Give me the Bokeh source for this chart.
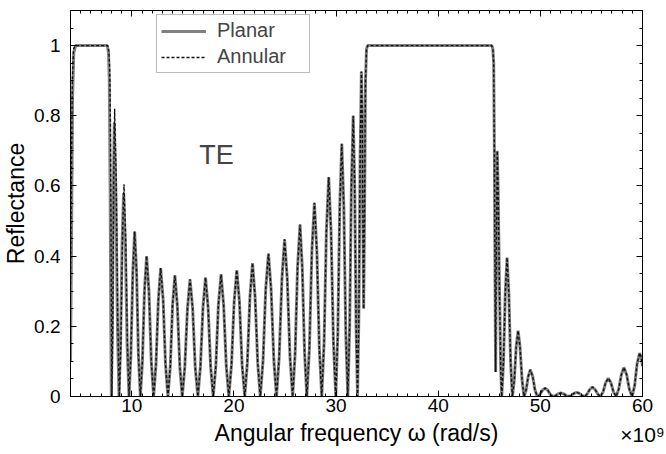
import numpy as np
from bokeh.plotting import figure
from bokeh.models import (LinearAxis, SingleIntervalTicker, FixedTicker, CustomJSTickFormatter,
                          Label, Legend, LegendItem, Range1d)
from bokeh.embed import file_html
from bokeh.resources import INLINE

# ---------------- data (x in units of 1e9 rad/s) ----------------
planar_head_x = [4.00, 4.10, 4.20, 4.32, 4.50, 7.60, 7.72, 7.80, 7.88, 7.95, 8.00,
                 8.10, 8.20, 8.29, 8.44, 8.60, 8.75,
                 8.90, 9.05, 9.20, 9.37, 9.55, 9.73]
planar_head_r = [0.10, 0.45, 0.85, 0.98, 1.00, 1.00, 0.98, 0.90, 0.60, 0.20, 0.00,
                 0.20, 0.59, 0.78, 0.59, 0.20, 0.00,
                 0.145, 0.435, 0.58, 0.435, 0.145, 0.00]
annular_head_x = [4.00, 4.08, 4.18, 4.30, 4.45, 7.65, 7.75, 7.83, 7.90, 7.97, 8.05,
                  8.14, 8.23, 8.32, 8.47, 8.63, 8.78,
                  8.93, 9.09, 9.24, 9.40, 9.57, 9.73]
annular_head_r = [0.32, 0.60, 0.90, 0.99, 1.00, 1.00, 0.985, 0.94, 0.80, 0.45, 0.00,
                  0.21, 0.62, 0.82, 0.62, 0.21, 0.00,
                  0.151, 0.454, 0.605, 0.454, 0.151, 0.00]

osc1_x = [9.91, 10.10, 10.28, 10.47, 10.65, 10.84,
          11.04, 11.24, 11.45, 11.68, 11.91, 12.14,
          12.37, 12.60, 12.83, 13.07, 13.30, 13.54,
          13.77, 13.99, 14.22, 14.46, 14.70, 14.94,
          15.19, 15.45, 15.70, 15.96, 16.21, 16.47,
          16.72, 16.97, 17.22, 17.47, 17.72, 17.97,
          18.23, 18.48, 18.74, 18.99, 19.25, 19.50,
          19.76, 20.02, 20.28, 20.54, 20.80, 21.06,
          21.31, 21.57, 21.82, 22.07, 22.33, 22.58,
          22.85, 23.11, 23.38, 23.64, 23.91, 24.17,
          24.43, 24.70, 24.96, 25.22, 25.49, 25.75,
          25.99, 26.23, 26.47, 26.69, 26.92, 27.14,
          27.39, 27.63, 27.88, 28.12, 28.36, 28.60,
          28.83, 29.05, 29.28, 29.51, 29.74, 29.97,
          30.17, 30.36, 30.56, 30.76, 30.95, 31.15,
          31.33, 31.50, 31.68, 31.82, 31.96, 32.10,
          32.23, 32.36, 32.48, 32.56, 32.64, 32.70, 32.78, 32.88, 32.98, 33.10]
osc1_r = [0.118, 0.353, 0.47, 0.353, 0.118, 0.0,
          0.10, 0.30, 0.40, 0.30, 0.10, 0.0,
          0.092, 0.275, 0.366, 0.275, 0.092, 0.0,
          0.086, 0.259, 0.345, 0.259, 0.086, 0.0,
          0.084, 0.25, 0.334, 0.25, 0.084, 0.0,
          0.085, 0.254, 0.339, 0.254, 0.085, 0.0,
          0.087, 0.261, 0.348, 0.261, 0.087, 0.0,
          0.09, 0.27, 0.36, 0.27, 0.09, 0.0,
          0.095, 0.285, 0.38, 0.285, 0.095, 0.0,
          0.102, 0.305, 0.407, 0.305, 0.102, 0.0,
          0.112, 0.336, 0.448, 0.336, 0.112, 0.0,
          0.122, 0.368, 0.49, 0.368, 0.122, 0.0,
          0.138, 0.414, 0.552, 0.414, 0.138, 0.0,
          0.156, 0.469, 0.625, 0.469, 0.156, 0.0,
          0.18, 0.54, 0.72, 0.54, 0.18, 0.0,
          0.20, 0.60, 0.80, 0.60, 0.20, 0.0,
          0.23, 0.69, 0.926, 0.80, 0.45, 0.25, 0.50, 0.90, 0.99, 1.00]

osc2_x = [45.25, 45.35, 45.43, 45.50, 45.57, 45.62, 45.70, 45.78, 45.86, 46.00, 46.12, 46.22,
          46.39, 46.57, 46.74, 46.91, 47.09, 47.26,
          47.45, 47.63, 47.82, 48.01, 48.21, 48.40,
          48.61, 48.81, 49.02, 49.25, 49.47, 49.70,
          49.96, 50.21, 50.47, 50.72, 50.97, 51.22,
          51.49, 51.75, 52.02, 52.27, 52.53, 52.78,
          53.04, 53.29, 53.55, 53.81, 54.06, 54.32,
          54.58, 54.84, 55.10, 55.36, 55.62, 55.88,
          56.14, 56.39, 56.65, 56.91, 57.16, 57.42,
          57.67, 57.93, 58.18, 58.45, 58.71, 58.98,
          59.23, 59.47, 59.72, 59.86, 60.00]
osc2_r = [1.00, 0.99, 0.95, 0.70, 0.30, 0.07, 0.45, 0.70, 0.60, 0.30, 0.08, 0.00,
          0.099, 0.297, 0.396, 0.297, 0.099, 0.0,
          0.047, 0.141, 0.1875, 0.141, 0.047, 0.0,
          0.019, 0.057, 0.076, 0.057, 0.019, 0.0,
          0.006, 0.018, 0.024, 0.018, 0.006, 0.0,
          0.0025, 0.0075, 0.010, 0.0075, 0.0025, 0.0,
          0.003, 0.009, 0.012, 0.009, 0.003, 0.0,
          0.007, 0.020, 0.027, 0.020, 0.007, 0.0,
          0.013, 0.039, 0.052, 0.039, 0.013, 0.0,
          0.021, 0.062, 0.083, 0.062, 0.021, 0.0,
          0.031, 0.093, 0.124, 0.113, 0.087]

series_names = ["Planar", "Annular"]

planar_x = planar_head_x + osc1_x + osc2_x
planar_r = planar_head_r + osc1_r + osc2_r
annular_x = annular_head_x + osc1_x + osc2_x
annular_r = annular_head_r + osc1_r + osc2_r

FONT = "Liberation Sans"

p = figure(width=666, height=454, output_backend="svg", toolbar_location=None,
           x_range=Range1d(4, 60), y_range=Range1d(0, 1.1),
           min_border_left=69, min_border_right=24, min_border_top=10, min_border_bottom=58)
p.background_fill_color = "white"
p.border_fill_color = "white"
p.outline_line_color = "black"
p.outline_line_width = 1
p.xgrid.visible = False
p.ygrid.visible = False

xt = SingleIntervalTicker(interval=10, num_minor_ticks=10)
yt = SingleIntervalTicker(interval=0.2, num_minor_ticks=4)
yfmt = CustomJSTickFormatter(code="return (Math.round(tick*10)/10).toString();")
empty = CustomJSTickFormatter(code="return '';")

def style_axis(ax, labels=True):
    ax.axis_line_color = "black"
    ax.major_tick_line_color = "black"
    ax.minor_tick_line_color = "black"
    ax.major_tick_in = 6
    ax.major_tick_out = 0
    ax.minor_tick_in = 3
    ax.minor_tick_out = 0
    if labels:
        ax.major_label_text_font = FONT
        ax.major_label_text_font_size = "19px"
        ax.major_label_text_color = "black"
        ax.axis_label_text_font = FONT
        ax.axis_label_text_font_size = "23px"
        ax.axis_label_text_font_style = "normal"
        ax.axis_label_text_color = "black"
    else:
        ax.major_label_text_font_size = "0px"
        ax.major_label_standoff = 0

xa = p.xaxis[0]
xa.ticker = xt
style_axis(xa)
xa.major_label_standoff = 2

ya = p.yaxis[0]
ya.ticker = yt
ya.formatter = yfmt
style_axis(ya)
ya.major_label_standoff = 10
ya.axis_label = "Reflectance"
ya.axis_label_standoff = 2

# second bottom axis: carries the x title and the x10^9 multiplier on one row
xa2 = LinearAxis(ticker=FixedTicker(ticks=[60]),
                 formatter=CustomJSTickFormatter(code="return '\\u00d710\\u2079';"))
xa2.axis_line_color = None
xa2.major_tick_line_color = None
xa2.minor_tick_line_color = None
xa2.major_tick_in = 0
xa2.major_tick_out = 0
xa2.major_label_text_font = FONT
xa2.major_label_text_font_size = "21px"
xa2.major_label_text_color = "black"
xa2.major_label_standoff = 8
xa2.axis_label = "Angular frequency ω (rad/s)"
xa2.axis_label_text_font = FONT
xa2.axis_label_text_font_size = "23px"
xa2.axis_label_text_font_style = "normal"
xa2.axis_label_text_color = "black"
xa2.axis_label_standoff = -29
p.add_layout(xa2, "below")

top = LinearAxis(ticker=xt, formatter=empty)
style_axis(top, labels=False)
p.add_layout(top, "above")
right = LinearAxis(ticker=yt, formatter=empty)
style_axis(right, labels=False)
p.add_layout(right, "right")

r_pl = p.line(planar_x, planar_r, line_color="#808080", line_width=3)
r_an = p.line(annular_x, annular_r, line_color="#111111", line_width=1.4, line_dash="3 2")

legend = Legend(items=[LegendItem(label=series_names[0], renderers=[r_pl]),
                       LegendItem(label=series_names[1], renderers=[r_an])],
                location=(86, 323), orientation="vertical",
                label_text_font=FONT, label_text_font_size="20px",
                glyph_width=45, glyph_height=20, label_height=20, spacing=3,
                padding=4, margin=0, label_standoff=11, label_width=88,
                border_line_color="#777777", border_line_width=1,
                background_fill_color="white", background_fill_alpha=1)
p.add_layout(legend)

p.add_layout(Label(x=18.3, y=0.687, text="TE", text_font=FONT, text_font_size="27px",
                   text_align="center", text_baseline="middle"))

open("out.html", "w").write(file_html(p, INLINE))
